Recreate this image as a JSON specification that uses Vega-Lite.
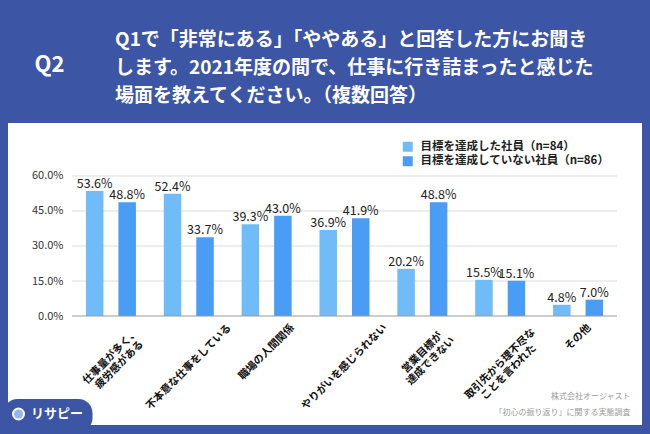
{
  "$schema": "https://vega.github.io/schema/vega-lite/v6.json",
  "width": 634,
  "height": 302,
  "autosize": {"type": "none"},
  "padding": {"left": 8, "top": 123, "right": 8, "bottom": 9},
  "background": "#3c55a5",
  "config": {"font": "Noto Sans CJK JP", "view": {"fill": "white", "stroke": null}},
  "title": {
    "text": ["Q1で「非常にある」「ややある」と回答した方にお聞き", "します。2021年度の間で、仕事に行き詰まったと感じた", "場面を教えてください。（複数回答）"],
    "anchor": "start",
    "frame": "group",
    "dx": 107,
    "offset": -53,
    "fontSize": 19,
    "fontWeight": "bold",
    "color": "white",
    "lineHeight": 28,
    "font": "Noto Sans CJK JP"
  },
  "data": {
    "values": [
      {"cat": "仕事量が多く、\n疲労感がある", "s": "目標を達成した社員（n=84）", "val": 0.536},
      {"cat": "仕事量が多く、\n疲労感がある", "s": "目標を達成していない社員（n=86）", "val": 0.488},
      {"cat": "不本意な仕事をしている", "s": "目標を達成した社員（n=84）", "val": 0.524},
      {"cat": "不本意な仕事をしている", "s": "目標を達成していない社員（n=86）", "val": 0.337},
      {"cat": "職場の人間関係", "s": "目標を達成した社員（n=84）", "val": 0.393},
      {"cat": "職場の人間関係", "s": "目標を達成していない社員（n=86）", "val": 0.430},
      {"cat": "やりがいを感じられない", "s": "目標を達成した社員（n=84）", "val": 0.369},
      {"cat": "やりがいを感じられない", "s": "目標を達成していない社員（n=86）", "val": 0.419},
      {"cat": "営業目標が\n達成できない", "s": "目標を達成した社員（n=84）", "val": 0.202},
      {"cat": "営業目標が\n達成できない", "s": "目標を達成していない社員（n=86）", "val": 0.488},
      {"cat": "取引先から理不尽な\nことを言われた", "s": "目標を達成した社員（n=84）", "val": 0.155},
      {"cat": "取引先から理不尽な\nことを言われた", "s": "目標を達成していない社員（n=86）", "val": 0.151},
      {"cat": "その他", "s": "目標を達成した社員（n=84）", "val": 0.048},
      {"cat": "その他", "s": "目標を達成していない社員（n=86）", "val": 0.070}
    ]
  },
  "layer": [
    {
      "data": {"values": [{}]},
      "encoding": {
        "x": {"datum": "仕事量が多く、\n疲労感がある", "type": "nominal", "bandPosition": 0},
        "x2": {"datum": "その他", "bandPosition": 1}
      },
      "layer": [
        {"mark": {"type": "rule", "color": "#dcdcdc", "strokeWidth": 1}, "encoding": {"y": {"datum": 0.15, "type": "quantitative"}}},
        {"mark": {"type": "rule", "color": "#dcdcdc", "strokeWidth": 1}, "encoding": {"y": {"datum": 0.3, "type": "quantitative"}}},
        {"mark": {"type": "rule", "color": "#dcdcdc", "strokeWidth": 1}, "encoding": {"y": {"datum": 0.45, "type": "quantitative"}}},
        {"mark": {"type": "rule", "color": "#dcdcdc", "strokeWidth": 1}, "encoding": {"y": {"datum": 0.6, "type": "quantitative"}}}
      ]
    },
    {
      "mark": {"type": "bar"},
      "encoding": {
        "x": {
          "field": "cat",
          "type": "nominal",
          "sort": null,
          "scale": {
            "domain": ["仕事量が多く、\n疲労感がある", "不本意な仕事をしている", "職場の人間関係", "やりがいを感じられない", "営業目標が\n達成できない", "取引先から理不尽な\nことを言われた", "その他"],
            "paddingInner": 0,
            "paddingOuter": 0.5716,
            "align": 0.719
          },
          "axis": {
            "title": ["株式会社オージャスト", "「初心の振り返り」に関する実態調査"],
            "titleX": 622,
            "titleY": 80,
            "titleAlign": "right",
            "titleBaseline": "middle",
            "titleFontSize": 8,
            "titleFontWeight": "normal",
            "titleColor": "#9a9a9a",
            "titleLineHeight": 16,
            "domain": false,
            "ticks": false,
            "grid": false,
            "offset": -109,
            "labelAngle": -45,
            "labelAlign": "center",
            "labelBaseline": "middle",
            "labelPadding": {"expr": "6+0.3536*(10.5*max(length(split(datum.value,'\\n')[0]),length(peek(split(datum.value,'\\n'))))+10.5+12*(length(split(datum.value,'\\n'))-1))"},
            "labelFontSize": 10.5,
            "labelFontWeight": "bold",
            "labelColor": "#111111",
            "labelLineHeight": 12,
            "labelOverlap": false,
            "labelLimit": 0,
            "labelExpr": "split(datum.label, '\\n')"
          }
        },
        "xOffset": {
          "field": "s",
          "type": "nominal",
          "sort": null,
          "scale": {"domain": ["目標を達成した社員（n=84）", "目標を達成していない社員（n=86）"], "paddingInner": 0.4615, "paddingOuter": 0.4286}
        },
        "y": {
          "field": "val",
          "type": "quantitative",
          "scale": {"domain": [-0.4671, 0.8271], "nice": false, "zero": false},
          "axis": {
            "values": [0, 0.15, 0.3, 0.45, 0.6],
            "format": ".1%",
            "grid": false,
            "domain": false,
            "ticks": false,
            "labelPadding": 2,
            "offset": -57,
            "labelFontSize": 11,
            "labelColor": "#333333",
            "title": "Q2",
            "titleX": -16,
            "titleY": -59,
            "titleAngle": 0,
            "titleAlign": "center",
            "titleBaseline": "middle",
            "titleFontSize": 22,
            "titleFontWeight": "bold",
            "titleColor": "white"
          }
        },
        "y2": {"datum": 0},
        "color": {
          "field": "s",
          "type": "nominal",
          "sort": null,
          "scale": {"domain": ["目標を達成した社員（n=84）", "目標を達成していない社員（n=86）"], "range": ["#70bcf9", "#4a9df5"]},
          "legend": {
            "title": null,
            "orient": "none",
            "legendX": 394,
            "legendY": 18,
            "symbolType": "square",
            "symbolSize": 100,
            "symbolStrokeWidth": 0,
            "labelFontSize": 11.5,
            "labelColor": "#222222",
            "labelFontWeight": "bold",
            "labelOffset": 7,
            "rowPadding": 1.5,
            "padding": 0,
            "labelLimit": 0
          }
        }
      }
    },
    {
      "data": {"values": [{"brand": "リサピー"}]},
      "mark": {"type": "rule", "color": "#999999", "strokeWidth": 1},
      "encoding": {
        "x": {"datum": "仕事量が多く、\n疲労感がある", "type": "nominal", "bandPosition": 0},
        "x2": {"datum": "その他", "bandPosition": 1},
        "y": {"datum": 0, "type": "quantitative"},
        "opacity": {
          "field": "brand",
          "type": "ordinal",
          "scale": {"range": [1]},
          "legend": {
            "title": null,
            "orient": "none",
            "legendX": -4.5,
            "legendY": 276,
            "fillColor": "#3c55a5",
            "cornerRadius": 14,
            "padding": 8.5,
            "symbolType": "circle",
            "symbolSize": 121,
            "symbolFillColor": "#8db8f0",
            "symbolStrokeColor": "white",
            "symbolStrokeWidth": 2,
            "symbolOpacity": 1,
            "labelFontSize": 13,
            "labelFontWeight": "bold",
            "labelColor": "white",
            "labelOffset": 6,
            "labelLimit": 0
          }
        }
      }
    },
    {
      "mark": {"type": "text", "dy": -3, "baseline": "alphabetic", "fontSize": 12.5, "color": "#222222"},
      "encoding": {
        "x": {"field": "cat", "type": "nominal", "sort": null},
        "xOffset": {"field": "s", "type": "nominal", "sort": null},
        "y": {"field": "val", "type": "quantitative"},
        "text": {"field": "val", "type": "quantitative", "format": ".1%"}
      }
    }
  ]
}
